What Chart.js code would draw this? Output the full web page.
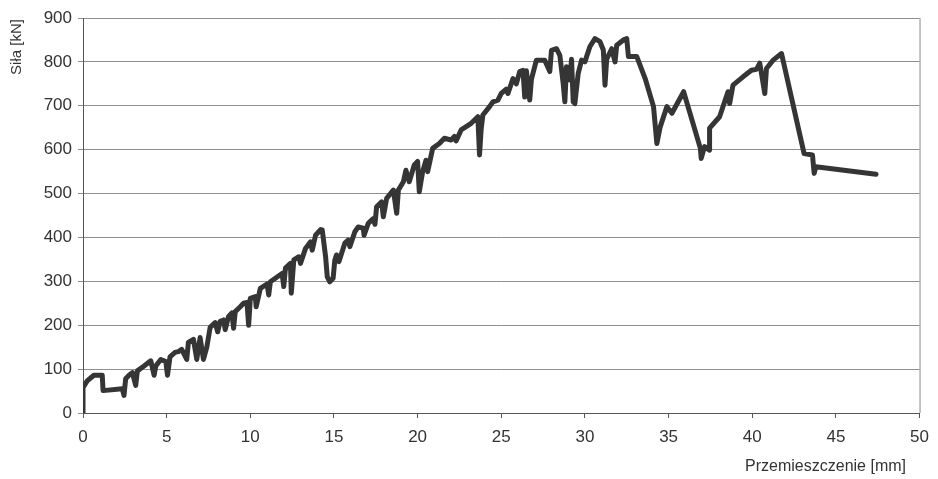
<!DOCTYPE html>
<html>
<head>
<meta charset="utf-8">
<script src="https://cdn.jsdelivr.net/npm/chart.js@4.4.0/dist/chart.umd.min.js"></script>
<style>
    html, body { margin: 0; padding: 0; background: #fff; }
    #wrap { width: 938px; height: 479px; position: relative; }
</style>
</head>
<body>
<div id="wrap"><canvas id="chart"></canvas></div>
<script>
// ============================================
// DATA
// ============================================
const displacement = [
    0, 0, 0.25, 0.65, 1.15, 1.2, 2.35, 2.45, 2.55, 2.75, 2.95, 3.15, 3.25, 3.65, 4.05, 4.25, 4.35, 4.65, 4.95, 5.05,
    5.2, 5.5, 5.7, 5.9, 6.2, 6.3, 6.6, 6.8, 7.0, 7.2, 7.4, 7.6, 7.9, 8.05, 8.2, 8.4, 8.5, 8.7, 8.9, 9.0,
    9.1, 9.4, 9.6, 9.8, 9.9, 10.0, 10.3, 10.35, 10.6, 11.0, 11.1, 11.2, 11.6, 11.9, 12.0, 12.1, 12.4, 12.45, 12.6, 12.9,
    13.0, 13.3, 13.6, 13.7, 13.9, 14.2, 14.3, 14.5, 14.6, 14.75, 14.95, 15.05, 15.15, 15.3, 15.65, 15.85, 15.95, 16.25, 16.45, 16.75,
    16.8, 17.05, 17.35, 17.45, 17.55, 17.85, 17.95, 18.15, 18.55, 18.75, 18.85, 19.15, 19.3, 19.5, 19.8, 20.0, 20.1, 20.3, 20.5, 20.6,
    20.9, 21.3, 21.6, 22.0, 22.2, 22.3, 22.6, 23.2, 23.6, 23.7, 23.8, 23.9, 24.3, 24.5, 24.8, 25.0, 25.3, 25.4, 25.7, 25.9,
    26.1, 26.3, 26.4, 26.5, 26.7, 26.8, 27.1, 27.6, 27.9, 28.0, 28.3, 28.5, 28.7, 28.8, 28.9, 29.1, 29.2, 29.3, 29.4, 29.5,
    29.6, 29.8, 30.0, 30.1, 30.3, 30.6, 30.9, 31.1, 31.2, 31.3, 31.6, 31.8, 31.9, 32.3, 32.5, 32.6, 33.1, 33.6, 34.1, 34.3,
    34.5, 34.9, 35.2, 35.9, 36.9, 36.95, 37.15, 37.45, 37.45, 38.05, 38.55, 38.65, 38.85, 39.45, 39.95, 40.25, 40.45, 40.75, 40.85, 41.25,
    41.75, 43.1, 43.6, 43.7, 43.8, 47.4
];
const force = [
    0, 58, 73, 86, 86, 51, 55, 40, 78, 86, 92, 63, 96, 107, 119, 86, 107, 122, 117, 86,
    128, 138, 140, 145, 122, 161, 168, 122, 172, 122, 150, 195, 206, 185, 209, 212, 190, 220, 228, 193,
    231, 242, 250, 252, 200, 261, 265, 242, 284, 294, 269, 299, 310, 318, 288, 330, 341, 273, 349, 356,
    341, 375, 390, 371, 405, 418, 417, 356, 310, 299, 307, 348, 360, 345, 387, 394, 379, 413, 424, 421,
    405, 432, 443, 430, 470, 481, 447, 489, 508, 455, 508, 527, 553, 527, 565, 573, 504, 550, 576, 550,
    603, 614, 626, 622, 630, 620, 645, 660, 675, 588, 648, 679, 698, 709, 713, 728, 738, 728, 762, 750,
    778, 781, 720, 780, 713, 760, 804, 804, 778, 826, 830, 815, 751, 709, 789, 759, 806, 709, 705, 740,
    774, 804, 800, 812, 835, 853, 846, 827, 747, 806, 830, 800, 838, 850, 853, 812, 812, 762, 698, 614,
    652, 698, 683, 732, 603, 580, 607, 599, 649, 675, 732, 705, 747, 766, 781, 783, 797, 728, 785, 804,
    819, 591, 588, 546, 561, 544
];
const xTicks = [0, 5, 10, 15, 20, 25, 30, 35, 40, 45, 50];
const yTicks = [0, 100, 200, 300, 400, 500, 600, 700, 800, 900];

const FONT = '"Liberation Sans", Arial, sans-serif';

// ============================================
// AXIS TITLES + FRAME (placed like the scan)
// ============================================
const framePlugin = {
    id: 'frame',
    afterDraw(chart) {
        const ctx = chart.ctx;
        const a = chart.chartArea;
        ctx.save();
        ctx.strokeStyle = '#8a8a8a';
        ctx.lineWidth = 1;
        ctx.beginPath();
        ctx.moveTo(a.right + 0.5, a.top);
        ctx.lineTo(a.right + 0.5, a.bottom);
        ctx.stroke();

        ctx.fillStyle = '#333';
        ctx.font = '16px ' + FONT;
        ctx.textAlign = 'right';
        ctx.textBaseline = 'middle';
        ctx.fillText('Przemieszczenie [mm]', 906, 467);

        ctx.font = '15px ' + FONT;
        ctx.translate(17, 47);
        ctx.rotate(-Math.PI / 2);
        ctx.textAlign = 'center';
        ctx.fillText('Siła [kN]', 0, 0);
        ctx.restore();
    }
};

function initForceChart(canvasId) {
    const el = document.getElementById(canvasId);
    if (!el) return;

    new Chart(el, {
        type: 'scatter',
        data: {
            datasets: [{
                data: displacement.map((x, i) => ({ x: x, y: force[i] })),
                showLine: true,
                borderColor: '#353535',
                borderWidth: 5,
                borderJoinStyle: 'round',
                borderCapStyle: 'round',
                pointRadius: 0,
                tension: 0
            }]
        },
        options: {
            responsive: true,
            maintainAspectRatio: false,
            animation: false,
            layout: { padding: { left: 0, top: 18, right: 18, bottom: 0 } },
            plugins: {
                legend: { display: false },
                tooltip: { enabled: false }
            },
            scales: {
                x: {
                    type: 'linear',
                    min: 0,
                    max: 50,
                    afterBuildTicks: s => { s.ticks = xTicks.map(v => ({ value: v })); },
                    afterFit: s => { s.height = 66; },
                    grid: {
                        drawOnChartArea: false,
                        color: '#555',
                        tickLength: 5
                    },
                    border: { color: '#555', width: 1 },
                    ticks: {
                        color: '#333',
                        padding: 9,
                        maxRotation: 0,
                        font: { family: FONT, size: 17 }
                    }
                },
                y: {
                    min: 0,
                    max: 900,
                    afterBuildTicks: s => { s.ticks = yTicks.map(v => ({ value: v })); },
                    afterFit: s => { s.width = 83; },
                    grid: {
                        color: '#8f8f8f',
                        lineWidth: 1,
                        tickLength: 5
                    },
                    border: { color: '#555', width: 1 },
                    ticks: {
                        color: '#333',
                        padding: 6,
                        font: { family: FONT, size: 17 }
                    }
                }
            }
        },
        plugins: [framePlugin]
    });
}

initForceChart('chart');
</script>
</body>
</html>
